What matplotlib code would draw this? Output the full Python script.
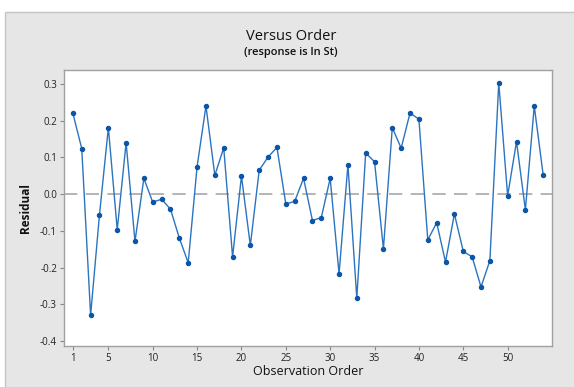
import matplotlib
matplotlib.use('Agg')
import matplotlib.pyplot as plt
from matplotlib.patches import Rectangle

plt.rcParams['font.family'] = ['Open Sans', 'DejaVu Sans']

# residuals in observation order
order = list(range(1, 55))
residual = [0.220, 0.124, -0.330, -0.056, 0.181, -0.097, 0.140, -0.129, 0.043, -0.022,
            -0.014, -0.041, -0.120, -0.187, 0.075, 0.240, 0.051, 0.126, -0.171, 0.049,
            -0.140, 0.065, 0.101, 0.127, -0.027, -0.020, 0.043, -0.072, -0.064, 0.043,
            -0.217, 0.080, -0.284, 0.112, 0.088, -0.149, 0.181, 0.125, 0.221, 0.204,
            -0.125, -0.078, -0.185, -0.054, -0.156, -0.171, -0.253, -0.181, 0.303, -0.005,
            0.143, -0.043, 0.240, 0.053]
x_ticks = [1, 5, 10, 15, 20, 25, 30, 35, 40, 45, 50]
y_ticks = [-0.4, -0.3, -0.2, -0.1, 0.0, 0.1, 0.2, 0.3]

fig = plt.figure(figsize=(5.74, 3.87), dpi=100)
fig.patch.set_facecolor('white')
# grey graph region behind the plot
fig.add_artist(Rectangle((5 / 574, -0.1), 1.2, 1.1 - 12 / 387, transform=fig.transFigure,
                         facecolor='#e6e6e6', edgecolor='#c4c4c4', linewidth=1.0, zorder=-5))

ax = fig.add_axes([64 / 574, 1 - 345.7 / 387, (552 - 64) / 574, (345.7 - 70) / 387])
ax.set_facecolor('white')

ax.axhline(0, color='#a8a8a8', linestyle=(0, (8, 5)), linewidth=1.2, zorder=1)
ax.plot(order, residual, color='#2b74c0', linewidth=1.0, zorder=2)
ax.plot(order, residual, linestyle='none', marker='o', markersize=2.9,
        color='#0b56a8', zorder=3)

ax.set_xlim(0, 55)
ax.set_ylim(-0.413, 0.338)
ax.set_xticks(x_ticks)
ax.set_yticks(y_ticks)
ax.set_yticklabels([f'{v:.1f}' for v in y_ticks])
ax.tick_params(axis='both', labelsize=7, length=3, width=0.8, color='#888888',
               labelcolor='#222222', pad=2)
for s in ax.spines.values():
    s.set_color('#a0a0a0')
    s.set_linewidth(1.0)

ax.set_xlabel('Observation Order', fontsize=9, labelpad=1, color='#111111')
ax.set_ylabel('Residual', fontsize=8.5, fontweight='bold', labelpad=6, color='#111111')

fig.text(0.507, 1 - 36 / 387, 'Versus Order', ha='center', va='center', fontsize=10.5,
         fontweight='medium', color='#111111')
fig.text(0.507, 1 - 52 / 387, '(response is ln St)', ha='center', va='center', fontsize=8,
         fontweight='semibold', color='#111111')

fig.savefig('out.png', dpi=100)
